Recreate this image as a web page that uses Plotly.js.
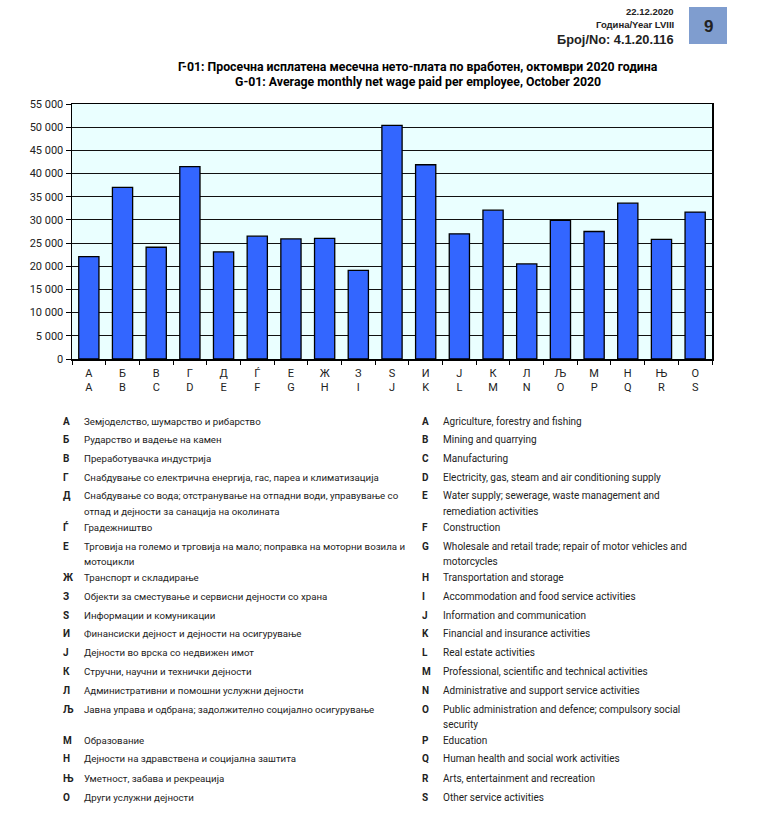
<!DOCTYPE html>
<html>
<head>
<meta charset="utf-8">
<script src="https://cdn.plot.ly/plotly-3.0.1.min.js"></script>
<style>html,body{margin:0;padding:0;background:#fff;}#chart{width:764px;height:829px;}</style>
</head>
<body>
<div id="chart"></div>
<script>
// ---- Data ----
const codesMK = ["А","Б","В","Г","Д","Ѓ","Е","Ж","З","Ѕ","И","Ј","К","Л","Љ","М","Н","Њ","О"];
const codesEN = ["A","B","C","D","E","F","G","H","I","J","K","L","M","N","O","P","Q","R","S"];
const wages = [22100, 37000, 24100, 41500, 23100, 26500, 25900, 26000, 19100, 50400, 41900, 27000, 32100, 20500, 29900, 27500, 33600, 25800, 31700];

const namesMK = [
  "Земјоделство, шумарство и рибарство",
  "Рударство и вадење на камен",
  "Преработувачка индустрија",
  "Снабдување со електрична енергија, гас, пареа и климатизација",
  "Снабдување со вода; отстранување на отпадни води, управување со\nотпад и дејности за санација на околината",
  "Градежништво",
  "Трговија на големо и трговија на мало; поправка на моторни возила и\nмотоцикли",
  "Транспорт и складирање",
  "Објекти за сместување и сервисни дејности со храна",
  "Информации и комуникации",
  "Финансиски дејност и дејности на осигурување",
  "Дејности во врска со недвижен имот",
  "Стручни, научни и технички дејности",
  "Административни и помошни услужни дејности",
  "Јавна управа и одбрана; задолжително социјално осигурување",
  "Образование",
  "Дејности на здравствена и социјална заштита",
  "Уметност, забава и рекреација",
  "Други услужни дејности"
];
const namesEN = [
  "Agriculture, forestry and fishing",
  "Mining and quarrying",
  "Manufacturing",
  "Electricity, gas, steam and air conditioning supply",
  "Water supply; sewerage, waste management and\nremediation activities",
  "Construction",
  "Wholesale and retail trade; repair of motor vehicles and\nmotorcycles",
  "Transportation and storage",
  "Accommodation and food service activities",
  "Information and communication",
  "Financial and insurance activities",
  "Real estate activities",
  "Professional, scientific and technical activities",
  "Administrative and support service activities",
  "Public administration and defence; compulsory social\nsecurity",
  "Education",
  "Human health and social work activities",
  "Arts, entertainment and recreation",
  "Other service activities"
];
const titleMK = "Г-01: Просечна исплатена месечна нето-плата по вработен, октомври 2020 година";
const titleEN = "G-01: Average monthly net wage paid per employee, October 2020";
const headerLines = ["22.12.2020", "Година/Year LVIII", "Број/No: 4.1.20.116"];
const pageNo = "9";

// ---- Layout helpers (pixel -> paper) ----
const L = 72, R = 712, T = 104, B = 359, W = 764, H = 829;
const px = x => (x - L) / (R - L);
const py = y => (B - y) / (B - T);

const tickText = codesMK.map((c, i) => c + "<br>" + codesEN[i]);

const TXT = "Roboto, 'Open Sans', sans-serif";
const HDR = "'Liberation Sans', Arial, sans-serif";

const annotations = [];
function ann(text, x, y, xanchor, size, family, color) {
  annotations.push({text: text, x: px(x), y: py(y), xref: "paper", yref: "paper", xanchor: xanchor, yanchor: "middle", showarrow: false, font: {family: family, size: size, color: color}});
}
// Title
ann("<b>" + titleMK + "</b>", 418, 67, "center", 12.3, TXT, "#000");
ann("<b>" + titleEN + "</b>", 418, 82, "center", 12.3, TXT, "#000");
// Header
ann("<b>" + headerLines[0] + "</b>", 676, 12, "right", 9.5, HDR, "#222");
ann("<b>" + headerLines[1] + "</b>", 676, 24, "right", 9.5, HDR, "#222");
ann("<b>" + headerLines[2] + "</b>", 676, 39, "right", 12.8, HDR, "#222");
ann("<b>" + pageNo + "</b>", 708, 26, "center", 17, HDR, "#222");

// Legend rows
const rowY = [421, 439, 458, 477, 496, 527, 546, 577, 596, 615, 634, 652, 671, 690, 709, 740, 759, 778, 797];
const lineGap = 15;
function addEntry(code, text, xCode, xText, y, size) {
  ann("<b>" + code + "</b>", xCode, y, "left", 10, TXT, "#222");
  text.split("\n").forEach((ln, k) => ann(ln, xText, y + k * lineGap, "left", size, TXT, "#222"));
}
codesMK.forEach((c, i) => {
  addEntry(c, namesMK[i], 61, 82, rowY[i], 9.7);
  addEntry(codesEN[i], namesEN[i], 420, 441, rowY[i], 10);
});

const shapes = [
  {type: "rect", xref: "paper", yref: "paper", x0: px(689), x1: px(727), y0: py(7), y1: py(44), fillcolor: "#7f9dcf", line: {width: 0}, layer: "below"}
];

const trace = {
  type: "bar",
  x: codesEN,
  y: wages,
  marker: {color: "#3366ff", line: {color: "#000", width: 1.3}},
  width: 0.6,
  hoverinfo: "x+y"
};

const layout = {
  width: W, height: H,
  margin: {l: L, r: W - R, t: T, b: H - B},
  paper_bgcolor: "#ffffff",
  plot_bgcolor: "#eaffff",
  showlegend: false,
  separators: ". ",
  font: {family: TXT, color: "#222"},
  xaxis: {
    type: "category",
    tickmode: "array",
    tickvals: codesEN,
    ticktext: tickText,
    tickson: "boundaries",
    ticks: "outside",
    ticklen: 4,
    tickcolor: "#000",
    ticklabelstandoff: 3,
    showline: true, linecolor: "#000", linewidth: 1.5,
    mirror: true,
    showgrid: false,
    tickfont: {family: TXT, size: 11, color: "#222"},
    range: [-0.5, 18.5]
  },
  yaxis: {
    range: [0, 55000],
    dtick: 5000,
    tick0: 0,
    tickformat: ",d",
    ticks: "outside",
    ticklen: 5,
    tickcolor: "#000",
    showline: true, linecolor: "#000", linewidth: 1.5,
    mirror: true,
    showgrid: true, gridcolor: "#111", gridwidth: 1,
    zeroline: false,
    tickfont: {family: TXT, size: 11, color: "#222"}
  },
  annotations: annotations,
  shapes: shapes
};

Plotly.newPlot("chart", [trace], layout, {displayModeBar: false, staticPlot: true});
</script>
</body>
</html>
